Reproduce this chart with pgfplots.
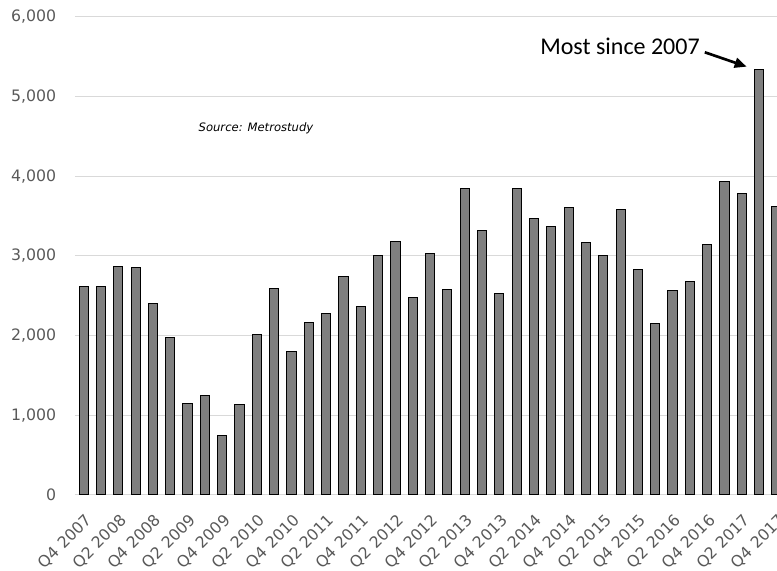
\documentclass[border=0pt]{standalone}
\usepackage{pgfplots}
\pgfplotsset{compat=1.18}
\usepackage{pgfplotstable}
\usepackage{fontspec}
\setmainfont{DejaVu Sans}
\newfontfamily\annotfont{Carlito}
\usetikzlibrary{arrows.meta}
\definecolor{barfill}{HTML}{7F7F7F}
\definecolor{gridgray}{HTML}{D9D9D9}
\definecolor{ticktext}{HTML}{595959}

% Quarterly new home starts, Q4 2007 (0) to Q4 2017 (40)
\pgfplotstableread{
idx starts
0 2620
1 2620
2 2866
3 2858
4 2401
5 1975
6 1151
7 1251
8 745
9 1138
10 2017
11 2590
12 1803
13 2167
14 2280
15 2736
16 2368
17 3012
18 3176
19 2481
20 3033
21 2577
22 3850
23 3314
24 2532
25 3850
26 3473
27 3368
28 3611
29 3167
30 3004
31 3577
32 2824
33 2150
34 2569
35 2682
36 3146
37 3929
38 3778
39 5335
40 3619
}\starts

\begin{document}
\begin{tikzpicture}
\begin{axis}[
  scale only axis,
  width=526.5pt, height=358.5pt,
  xmin=-0.5, xmax=40.031,
  ymin=0, ymax=6000,
  ytick={0,1000,...,6000},
  xtick={0,2,...,40},
  xticklabels={Q4 2007,Q2 2008,Q4 2008,Q2 2009,Q4 2009,Q2 2010,Q4 2010,Q2 2011,Q4 2011,Q2 2012,Q4 2012,Q2 2013,Q4 2013,Q2 2014,Q4 2014,Q2 2015,Q4 2015,Q2 2016,Q4 2016,Q2 2017,Q4 2017},
  ymajorgrids,
  major grid style={draw=gridgray, line width=0.75pt},
  axis line style={draw=none},
  major tick length=0pt,
  tick label style={font=\fontsize{11.8}{14}\selectfont, text=ticktext},
  /pgf/number format/assume math mode=true,
  /pgf/number format/1000 sep={,},
  yticklabel style={anchor=east, inner sep=0pt, xshift=-14pt},
  xticklabel style={xshift=0.5pt, yshift=-13.5pt, rotate=45, anchor=north east, inner sep=0pt},
  clip=true,
]
\addplot[ybar, bar width=0.53, fill=barfill, draw=black, line width=0.75pt]
  table[x=idx, y=starts] {\starts};

\node[font=\fontsize{8.7}{10}\selectfont\itshape, inner sep=0pt]
  at (axis cs:9.95,4607) {Source: Metrostudy};
\node[anchor=east, inner sep=0pt, font=\annotfont\fontsize{18}{20}\selectfont]
  at (axis cs:35.585,5632) {Most since 2007};
\draw[-{Triangle[length=9pt, width=7.5pt]}, line width=2pt]
  (axis cs:35.86,5557) -- (axis cs:38.28,5376);

\coordinate (bbsw) at (axis cs:-4.830,-954);
\coordinate (bbne) at (axis cs:40.031,6213);
\end{axis}
\pgfresetboundingbox
\path[use as bounding box] (bbsw) rectangle (bbne);
\end{tikzpicture}
\end{document}
